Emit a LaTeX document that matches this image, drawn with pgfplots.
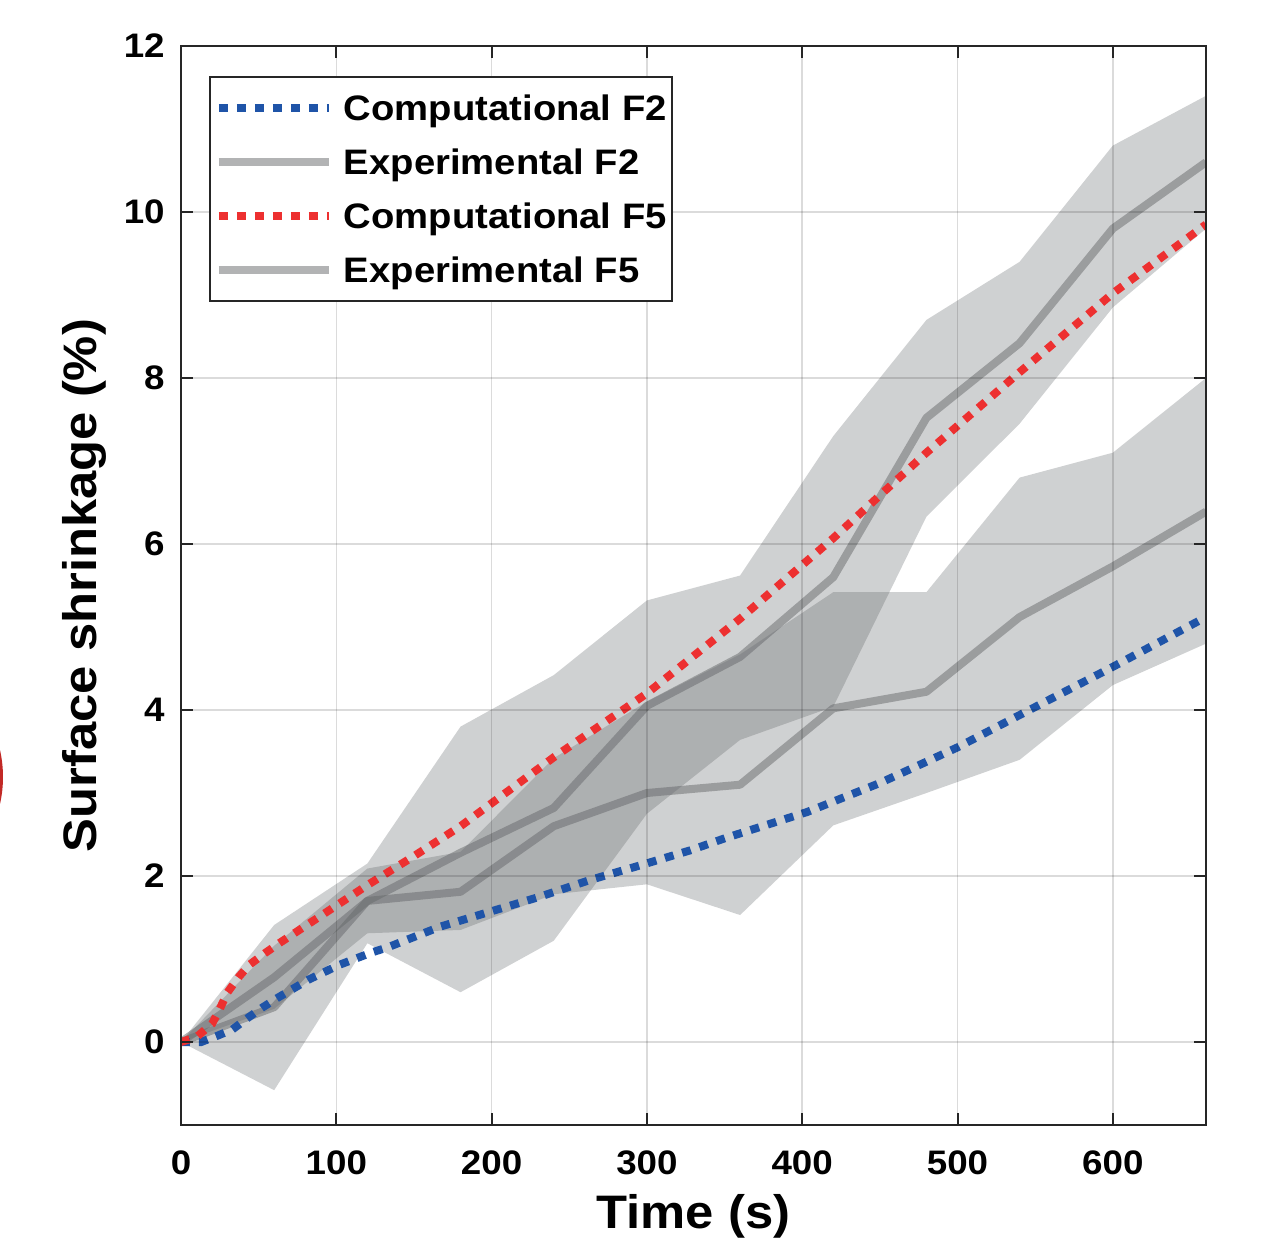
\documentclass[border=0pt]{standalone}
\usepackage{fontspec}
\setmainfont{Liberation Sans}[FakeStretch=1.08]
\usepackage{pgfplots}
\pgfplotsset{compat=1.18}
\definecolor{cblue}{rgb}{0.12,0.33,0.66}
\definecolor{cred}{rgb}{0.93,0.19,0.19}
\definecolor{bandc}{rgb}{0.33,0.35,0.36}
\definecolor{linec}{rgb}{0.40,0.41,0.42}
\definecolor{axc}{rgb}{0.15,0.15,0.15}
\definecolor{blobc}{rgb}{0.76,0.16,0.15}
\pgfplotsset{
  compF2/.style={color=cblue, line width=4pt, dash pattern=on 4.5pt off 4.5pt},
  compF5/.style={color=cred, line width=4pt, dash pattern=on 4.5pt off 4.5pt},
  expline/.style={color=linec, opacity=0.5, line width=4pt, line join=round},
  band/.style={fill=bandc, fill opacity=0.28, draw=none},
}
\begin{document}
\begin{tikzpicture}
\begin{axis}[
  scale only axis, width=512.5pt, height=539.5pt,
  xmin=0, xmax=660, ymin=-1, ymax=12,
  xtick={0,100,...,600}, ytick={0,2,...,12},
  grid=major, grid style={black, opacity=0.14, line width=0.8pt},
  axis line style={axc, line width=1pt},
  tick style={axc, line width=1pt},
  major tick length=6pt, tick align=inside, xtick pos=both, ytick pos=both,
  xticklabel pos=bottom, yticklabel pos=left,
  axis on top,
  /pgf/number format/assume math mode=true,
  tick label style={font=\fontsize{17}{17}\selectfont\bfseries},
  yticklabel style={anchor=east, inner sep=0pt, xshift=-8pt},
  xticklabel style={anchor=north, inner sep=0pt, yshift=-12.5pt},
  xlabel={Time (s)}, ylabel={Surface shrinkage (\%)},
  label style={font=\fontsize{23.5}{23.5}\selectfont\bfseries},
  xlabel style={at={(axis description cs:0.5,-0.096)}, anchor=base, inner sep=0pt},
  ylabel style={at={(axis description cs:-0.08195,0.5)}, anchor=base, inner sep=0pt},
  legend style={at={(axis description cs:0.0273,0.9722)}, anchor=north west,
    draw=axc, line width=1pt, fill=white, inner xsep=2.5pt, inner ysep=5.5pt,
    row sep=7pt, font=\fontsize{17.7}{17.7}\selectfont\bfseries,
    nodes={inner sep=0pt, text height=16.4pt, text depth=3.6pt, anchor=west},
    /tikz/every odd column/.style={column sep=5.5pt}},
  legend cell align=left,
  legend image code/.code={\draw[#1, line cap=butt] (0pt,0pt) -- (55pt,0pt);},
]
\addlegendimage{compF2}\addlegendentry{Computational F2}
\addlegendimage{expline}\addlegendentry{Experimental F2}
\addlegendimage{compF5}\addlegendentry{Computational F5}
\addlegendimage{expline}\addlegendentry{Experimental F5}

% F2 band (mean +/- sd)
\addplot[band, forget plot] coordinates {(0,0)(60,1.16)(120,2.09)(180,2.29)(240,3.42)(300,4.1)(360,4.67)(420,5.42)(480,5.42)(540,6.8)(600,7.1)(660,8.0)(660,4.8)(600,4.3)(540,3.4)(480,3.0)(420,2.61)(360,1.53)(300,1.9)(240,1.78)(180,1.35)(120,1.31)(60,0.4)} -- cycle;
% F5 band
\addplot[band, forget plot] coordinates {(0,0)(60,1.41)(120,2.15)(180,3.8)(240,4.42)(300,5.32)(360,5.62)(420,7.3)(480,8.7)(540,9.4)(600,10.8)(660,11.4)(660,9.8)(600,8.85)(540,7.45)(480,6.33)(420,4.04)(360,3.64)(300,2.75)(240,1.22)(180,0.6)(120,1.19)(60,-0.58)} -- cycle;

% Experimental means
\addplot[expline, forget plot] coordinates {(0,0)(60,0.78)(120,1.7)(180,1.81)(240,2.6)(300,3.0)(360,3.1)(420,4.02)(480,4.22)(540,5.12)(600,5.73)(660,6.39)};
\addplot[expline, forget plot] coordinates {(0,0)(60,0.42)(120,1.7)(180,2.28)(240,2.82)(300,4.05)(360,4.64)(420,5.6)(480,7.52)(540,8.42)(600,9.8)(660,10.6)};

% Computational
\addplot[compF2, forget plot] coordinates {(0,0)(13,0.0)(24,0.08)(33,0.15)(43,0.29)(52,0.41)(62,0.53)(82,0.75)(102,0.93)(123,1.08)(133,1.14)(167,1.39)(199,1.57)(231,1.75)(263,1.95)(296,2.13)(328,2.31)(351,2.46)(403,2.77)(450,3.12)(478,3.36)(500,3.55)(538,3.92)(600,4.52)(660,5.12)};
\addplot[compF5, forget plot] coordinates {(0,0)(10,0.06)(20,0.22)(25,0.4)(30,0.6)(37,0.78)(44,0.93)(54,1.07)(64,1.2)(90,1.52)(120,1.89)(150,2.24)(180,2.6)(240,3.43)(300,4.2)(360,5.1)(420,6.07)(480,7.1)(540,8.07)(600,9.02)(660,9.85)};
\end{axis}
\fill[blobc] (-150pt,174pt) circle (61pt);
\pgfresetboundingbox
\path[use as bounding box] (-90.5pt,-57pt) rectangle (540pt,562.5pt);
\end{tikzpicture}
\end{document}
